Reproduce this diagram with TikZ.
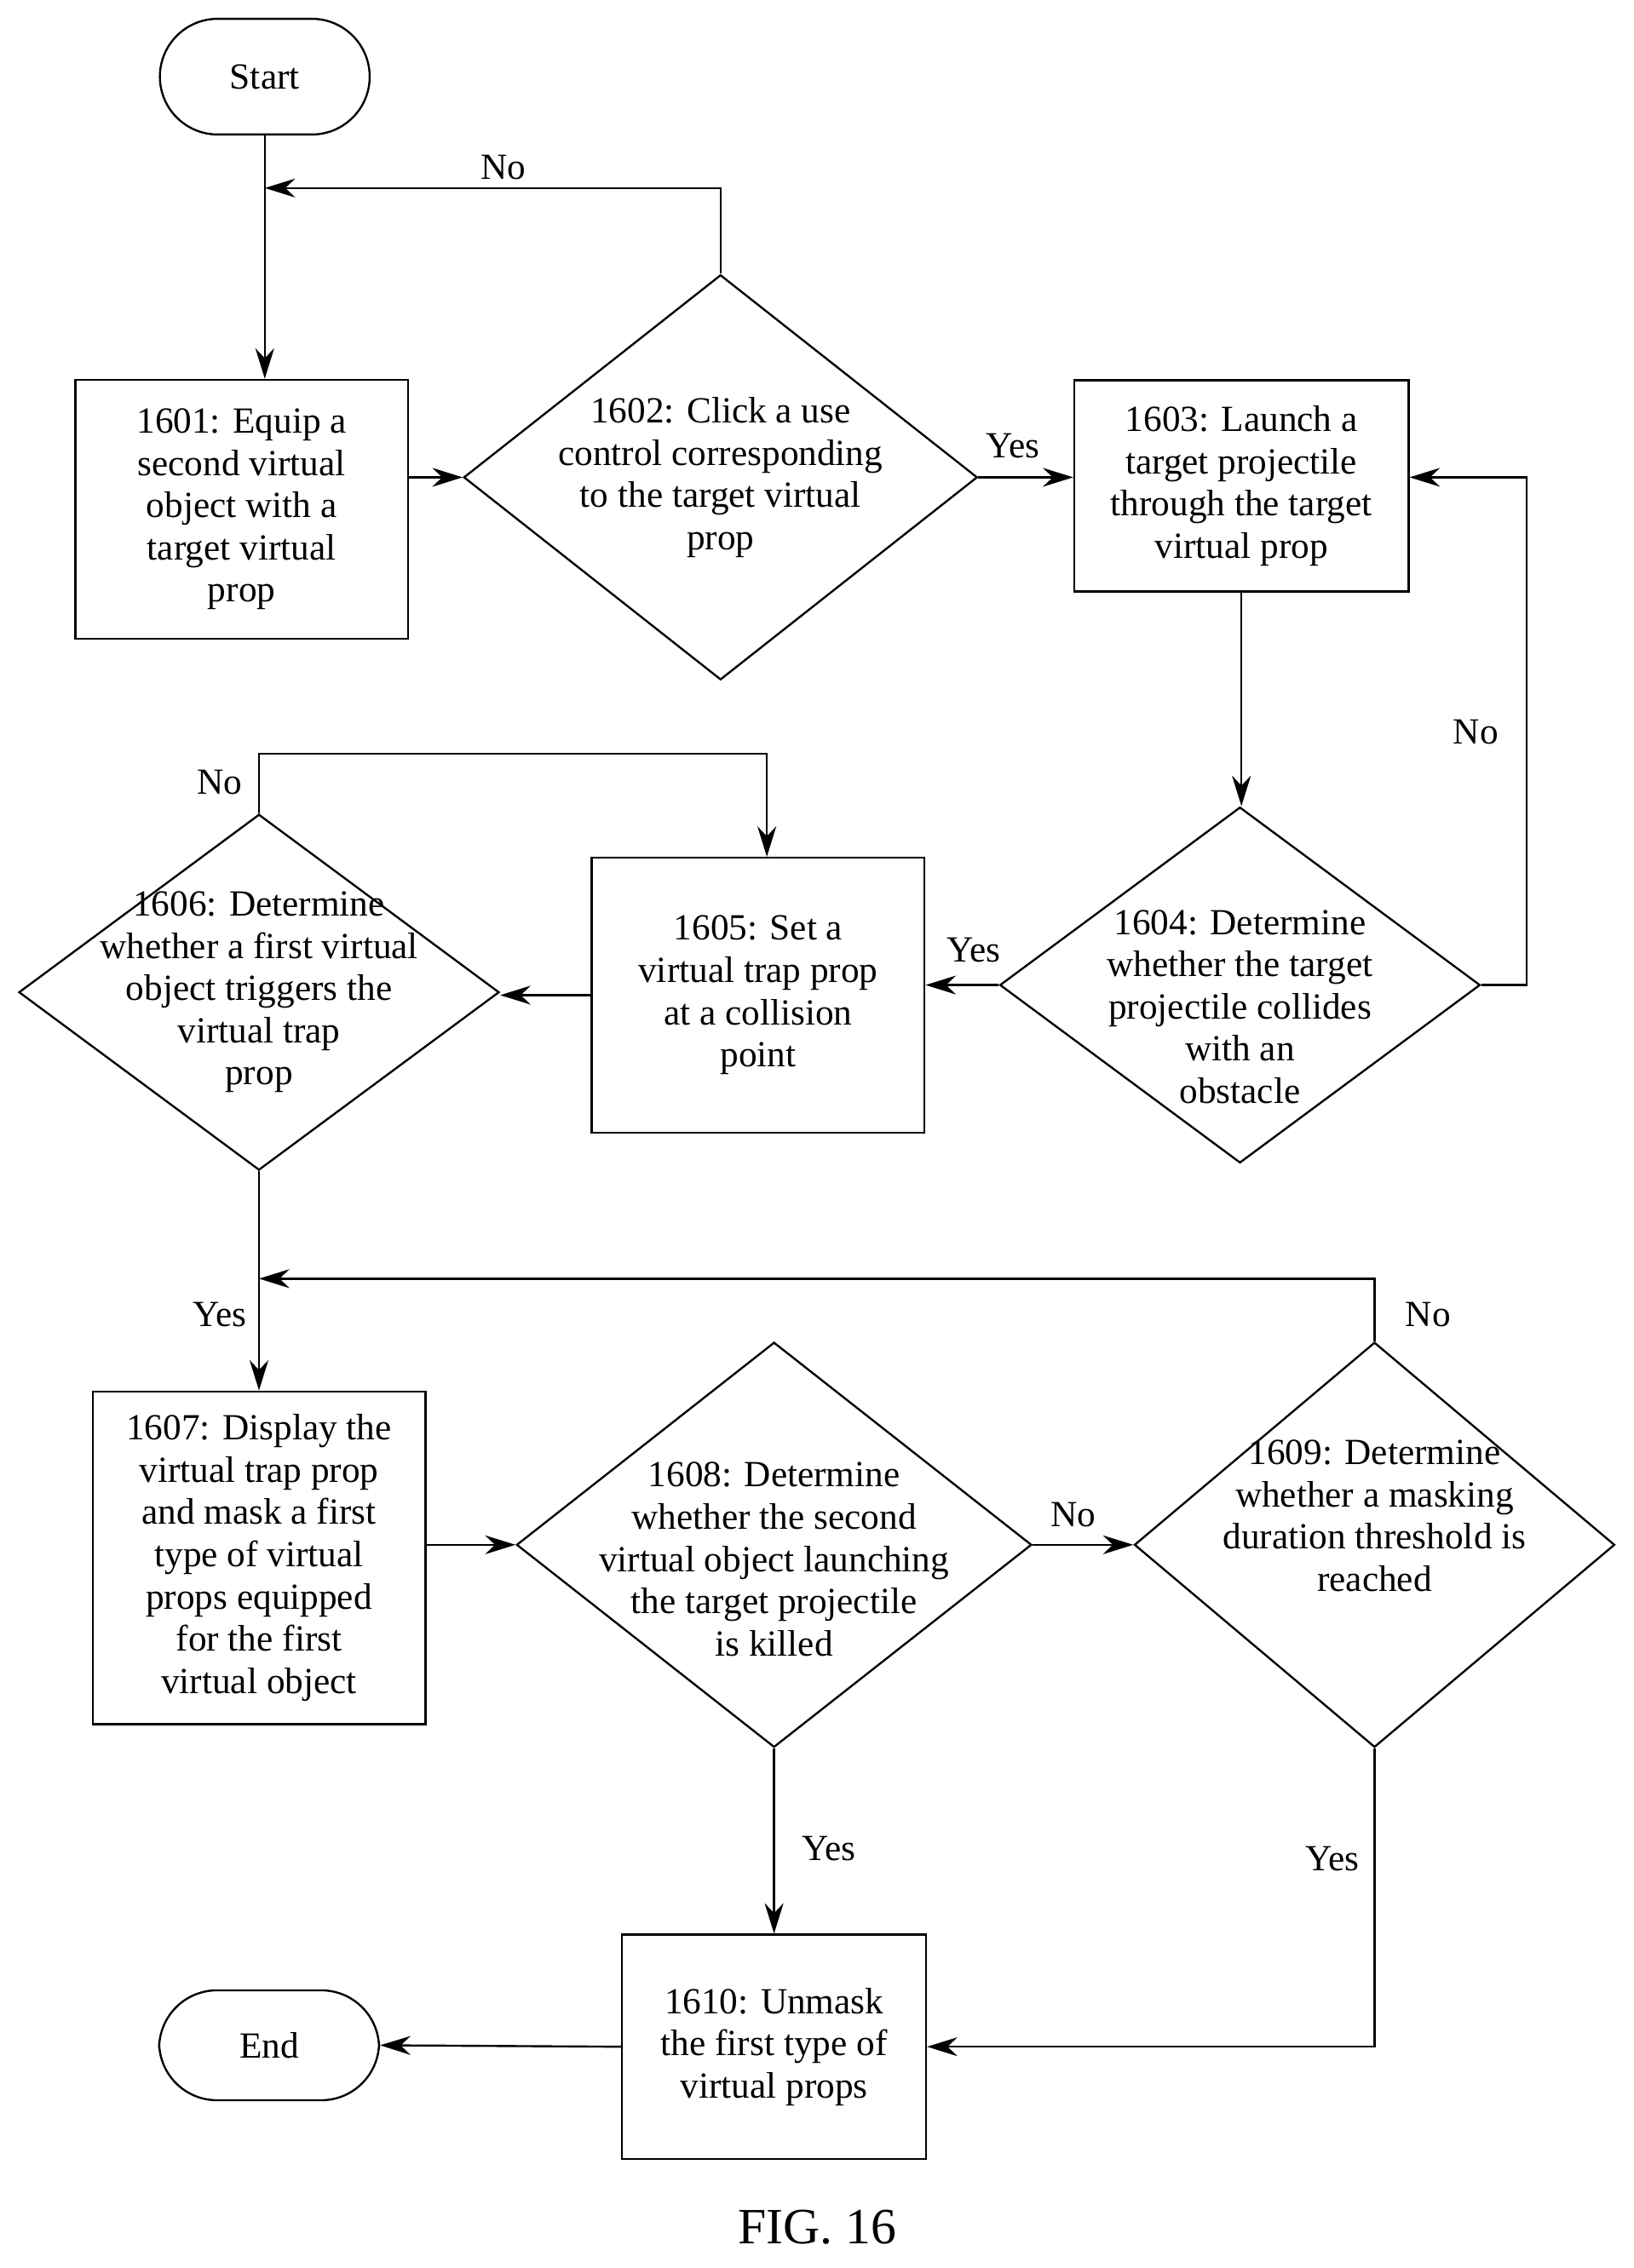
\documentclass[tikz,border=0pt]{standalone}
\usepackage{fontspec}
\setmainfont{Liberation Serif}
\usetikzlibrary{shapes.geometric,arrows.meta,positioning}

\tikzset{
  box/.style={draw, thick, minimum width=#1},
  term/.style={draw, thick, rounded corners=0.8cm, minimum width=2.9cm, minimum height=1.6cm},
  dia/.style={draw, thick, diamond, inner sep=0pt},
  txt/.style={align=center, font=\fontsize{14.5}{16.6}\selectfont},
  lbl/.style={font=\fontsize{14.5}{16.6}\selectfont},
  arr/.style={thick, -{Stealth[length=0.42cm, width=0.26cm]}}
}

\begin{document}
\begin{tikzpicture}
\useasboundingbox (0,0) rectangle (22.58,-31.36);

% terminals
\node[term, txt] (start) at (3.66,-1.06) {Start};
\node[term, txt, minimum width=3.04cm, minimum height=1.52cm] (end) at (3.72,-28.28) {End};

% process boxes
\node[box=4.6cm, minimum height=3.58cm, txt] (b1) at (3.34,-7.04) {1601: Equip a\\second virtual\\object with a\\target virtual\\prop};
\node[box=4.62cm, minimum height=2.92cm, txt] (b3) at (17.16,-6.72) {1603: Launch a\\target projectile\\through the target\\virtual prop};
\node[box=4.6cm, minimum height=3.8cm, txt] (b5) at (10.48,-13.76) {1605: Set a\\virtual trap prop\\at a collision\\point};
\node[box=4.6cm, minimum height=4.6cm, txt] (b7) at (3.58,-21.54) {1607: Display the\\virtual trap prop\\and mask a first\\type of virtual\\props equipped\\for the first\\virtual object};
\node[box=4.2cm, minimum height=3.1cm, txt] (b10) at (10.7,-28.3) {1610: Unmask\\the first type of\\virtual props};

% decisions
\node[dia, minimum width=7.1cm, minimum height=5.6cm] (d2) at (9.96,-6.6) {};
\node[txt] (d2t) at (d2) {1602: Click a use\\control corresponding\\to the target virtual\\prop};
\node[dia, minimum width=6.64cm, minimum height=4.92cm] (d4) at (17.14,-13.62) {};
\node[txt] (d4t) at ([yshift=-0.3cm]d4) {1604: Determine\\whether the target\\projectile collides\\with an\\obstacle};
\node[dia, minimum width=6.64cm, minimum height=4.92cm] (d6) at (3.58,-13.72) {};
\node[txt] (d6t) at (d6) {1606: Determine\\whether a first virtual\\object triggers the\\virtual trap\\prop};
\node[dia, minimum width=7.12cm, minimum height=5.6cm] (d8) at (10.7,-21.36) {};
\node[txt] (d8t) at ([yshift=-0.2cm]d8) {1608: Determine\\whether the second\\virtual object launching\\the target projectile\\is killed};
\node[dia, minimum width=6.64cm, minimum height=5.6cm] (d9) at (19.0,-21.36) {};
\node[txt] (d9t) at ([yshift=0.4cm]d9) {1609: Determine\\whether a masking\\duration threshold is\\reached};

% junctions
\coordinate (j1) at (3.66,-2.6);
\coordinate (j2) at (21.1,-6.6);
\coordinate (j3) at (10.6,-10.42);
\coordinate (j4) at (3.58,-17.68);

% connectors
\draw[arr] (start.south) -- (start.south |- b1.north);
\draw[arr] (d2.north) |- (j1);
\draw[arr] (b1.east |- d2.west) -- (d2.west);
\draw[arr] (d2.east) -- (d2.east -| b3.west);
\draw[arr] (b3.south) -- (b3.south |- d4.north);
\draw[arr] (d4.east) -| (j2) -- (b3.east |- j2);
\draw[arr] (d4.west) -- (d4.west -| b5.east);
\draw[arr] (b5.west) -- (b5.west -| d6.east);
\draw[arr] (d6.north) |- (j3) -- (j3 |- b5.north);
\draw[arr] (d6.south) -- (b7.north);
\draw[arr] (d9.north) |- (j4);
\draw[arr] (b7.east |- d8.west) -- (d8.west);
\draw[arr] (d8.east) -- (d9.west);
\draw[arr] (d8.south) -- (b10.north);
\draw[arr] (d9.south) |- (b10.east);
\draw[arr] (b10.west) -- (end.east);

% labels
\node[lbl] (no1) at (6.96,-2.32) {No};
\node[lbl] (yes1) at (14.0,-6.16) {Yes};
\node[lbl] (no2) at (20.4,-10.12) {No};
\node[lbl] (yes2) at (13.46,-13.14) {Yes};
\node[lbl] (no3) at (3.04,-10.82) {No};
\node[lbl] (yes3) at (3.04,-18.18) {Yes};
\node[lbl] (no4) at (19.74,-18.18) {No};
\node[lbl] (no5) at (14.84,-20.94) {No};
\node[lbl] (yes4) at (11.46,-25.56) {Yes};
\node[lbl] (yes5) at (18.42,-25.7) {Yes};

\node[font=\fontsize{20}{24}\selectfont] (fig) at (11.3,-30.8) {FIG. 16};
\end{tikzpicture}
\end{document}
